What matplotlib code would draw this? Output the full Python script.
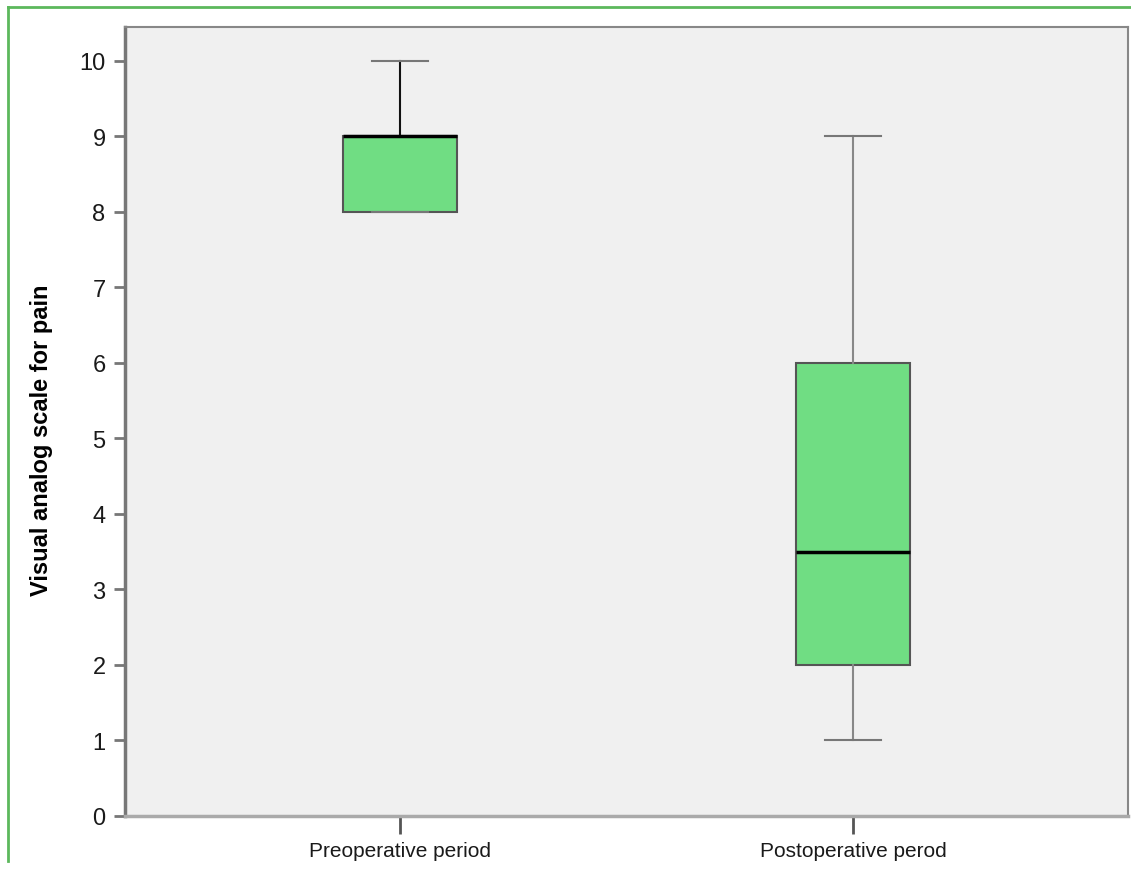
import matplotlib
matplotlib.use("Agg")
import matplotlib.pyplot as plt
from matplotlib.lines import Line2D

categories = ["Preoperative period", "Postoperative perod"]
whislo = [8, 1]
q1 = [8, 2]
med = [9, 3.5]
q3 = [9, 6]
whishi = [10, 9]
yticks = list(range(0, 11))

plt.rcParams['font.family'] = ['Liberation Sans', 'DejaVu Sans']

W, H = 1131, 870
fig = plt.figure(figsize=(W / 100, H / 100), dpi=100)
ax = fig.add_axes([125 / W, 1 - 817 / H, (1128 - 125) / W, (817 - 28) / H])
ax.set_facecolor('#f0f0f0')

stats = []
for i in range(len(categories)):
    stats.append(dict(label=categories[i], whislo=whislo[i], q1=q1[i], med=med[i],
                      q3=q3[i], whishi=whishi[i], fliers=[]))

positions = [1, 2]
bp = ax.bxp(stats, positions=positions, widths=0.252, patch_artist=True,
            showfliers=False,
            boxprops=dict(facecolor='#70dd83', edgecolor='#555555', linewidth=1.5),
            medianprops=dict(color='black', linewidth=2.5),
            whiskerprops=dict(color='#777777', linewidth=1.5),
            capprops=dict(color='#777777', linewidth=1.5),
            capwidths=0.124)
bp['whiskers'][1].set_color('#111111')
for w in bp['whiskers'][2:]:
    w.set_color('#888888')

ax.set_xlim(0.393, 2.607)
ax.set_ylim(0, 10.45)
ax.set_yticks(yticks)
ax.set_yticklabels([str(t) for t in yticks], fontsize=17, color='#1a1a1a')
ax.set_xticks(positions)
ax.set_xticklabels(categories, fontsize=15, color='#1a1a1a')
ax.tick_params(axis='y', length=8, width=2, color='#777777', pad=6)
ax.tick_params(axis='x', length=13, width=2, color='#555555', pad=5)
for s in ax.spines.values():
    s.set_color('#888888')
    s.set_linewidth(1.5)
ax.spines['left'].set_linewidth(2.5)
ax.spines['bottom'].set_linewidth(2.5)
ax.spines['left'].set_color('#777777')
ax.spines['bottom'].set_color('#aaaaaa')
ax.set_ylabel('Visual analog scale for pain', fontsize=17, fontweight='bold')
ax.yaxis.set_label_coords(-0.072, 0.478)

# green frame lines
fig.add_artist(Line2D([8 / W, 1.0], [1 - 8 / H, 1 - 8 / H], transform=fig.transFigure,
                      color='#5cb85c', linewidth=2))
fig.add_artist(Line2D([8 / W, 8 / W], [1 - 8 / H, 1 - 862 / H], transform=fig.transFigure,
                      color='#5cb85c', linewidth=2))

fig.savefig('out.png', dpi=100, facecolor='white')
